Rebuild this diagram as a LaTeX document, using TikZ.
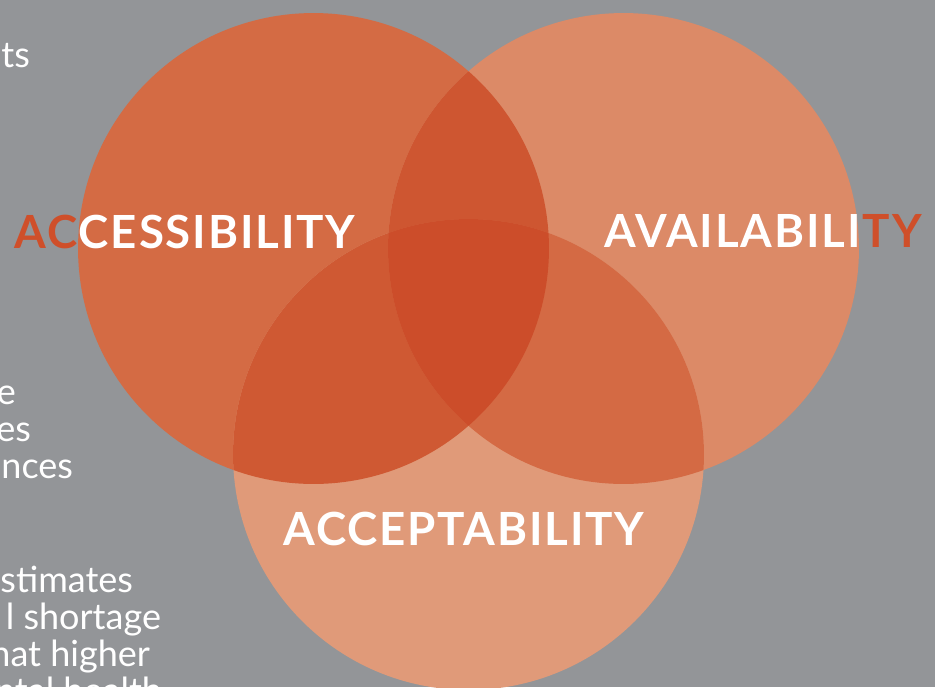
\documentclass[tikz,border=0pt]{standalone}
\usepackage{fontspec}
\setmainfont{Lato}
\newfontfamily\labelfont[LetterSpace=4]{Lato}
\usepackage{tikz}
\usetikzlibrary{positioning}
\usetikzlibrary{calc}

\definecolor{bggray}{HTML}{939598}
\definecolor{accorange}{HTML}{D46B44}
\definecolor{avaorange}{HTML}{DC8A67}
\definecolor{cptorange}{HTML}{E09A79}
\definecolor{accava}{HTML}{CE5631}
\definecolor{acccpt}{HTML}{CF5933}
\definecolor{avacpt}{HTML}{D46A44}
\definecolor{allthree}{HTML}{CC4D2A}
\definecolor{labelred}{HTML}{CF4F2A}

\tikzset{
	every node/.style={outer sep=0pt,inner sep=0pt},
	bigword/.style={font=\labelfont\fontsize{26}{30}\selectfont\bfseries,anchor=base},
	sidetext/.style={font=\fontsize{20.5}{24}\selectfont,text=white,anchor=base east},
	rad/.style={radius=4.71cm},
}

\begin{document}
\begin{tikzpicture}[x=0.02cm,y=-0.02cm]

		% background.....................
		\fill [bggray] (0,0) rectangle (935,687);
		\useasboundingbox (0,0) rectangle (935,687);
		\clip (0,0) rectangle (935,687);

		% circle centres.....................
		\coordinate (acc) at (313.5,248.5);
		\coordinate (ava) at (623.5,248.5);
		\coordinate (cpt) at (468.5,454.5);

		% text cut by the left edge..................
		\node [sidetext] (t1) at (30,67) {ts};
		\node [sidetext] (t2) at (16,404) {e};
		\node [sidetext] (t3) at (31,441) {es};
		\node [sidetext] (t4) at (73,478) {nces};
		\node [sidetext] (t5) at (133,592) {stimates};
		\node [sidetext] (t6) at (161,629) {l shortage};
		\node [sidetext] (t7) at (150,666) {hat higher};
		\node [sidetext] (t8) at (162,703) {ntal health};

		% circles...................
		\fill [accorange] (acc) circle [rad];
		\fill [avaorange] (ava) circle [rad];
		\fill [cptorange] (cpt) circle [rad];

		% overlaps....................
		\begin{scope}
			\clip (acc) circle [rad];
			\fill [accava] (ava) circle [rad];
			\fill [acccpt] (cpt) circle [rad];
		\end{scope}
		\begin{scope}
			\clip (ava) circle [rad];
			\fill [avacpt] (cpt) circle [rad];
		\end{scope}
		\begin{scope}
			\clip (acc) circle [rad];
			\clip (ava) circle [rad];
			\fill [allthree] (cpt) circle [rad];
		\end{scope}

		% labels, red outside their circle..............
		\node [bigword, text=labelred] (accred) at (185,248) {ACCESSIBILITY};
		\node [bigword, text=labelred] (avared) at (763,247) {AVAILABILITY};
		\begin{scope}
			\clip (acc) circle [rad];
			\node [bigword, text=white] (accw) at (accred.base) {ACCESSIBILITY};
		\end{scope}
		\begin{scope}
			\clip (ava) circle [rad];
			\node [bigword, text=white] (avaw) at (avared.base) {AVAILABILITY};
		\end{scope}
		\node [bigword, text=white] (cptw) at (464,545) {ACCEPTABILITY};

	\end{tikzpicture}
\end{document}
